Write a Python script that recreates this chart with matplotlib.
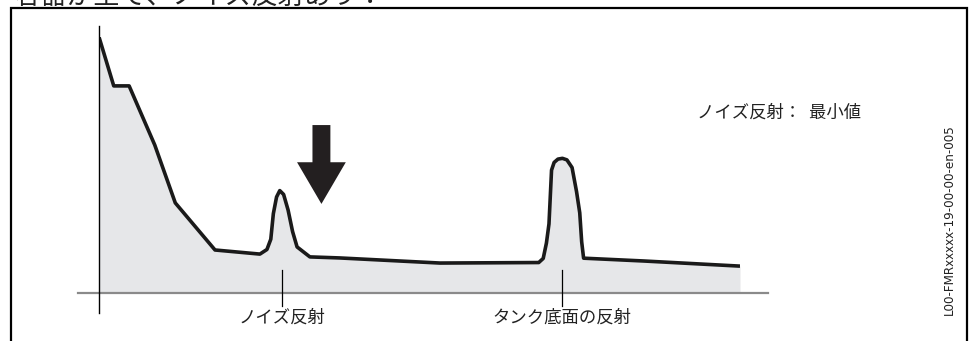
import numpy as np
import matplotlib
matplotlib.use("Agg")
import matplotlib.pyplot as plt

plt.rcParams['font.family'] = ['Noto Sans CJK JP', 'DejaVu Sans']

# echo curve (distance 0-100, amplitude 0-100)
dist = [0, 2.3, 4.7, 8.7, 11.9, 18.1, 25.1, 26.2, 26.8, 27.2, 27.7, 28.2, 28.8,
        29.5, 30.2, 30.9, 32.9, 37.5, 53.2, 68.6, 69.3, 69.8, 70.2, 70.6, 71.0,
        71.6, 72.3, 73.0, 73.8, 74.5, 75.0, 75.3, 75.6, 85.0, 100]
ampl = [100, 80.9, 80.9, 57.8, 35.2, 16.8, 15.2, 17.0, 21.0, 31.0, 37.5, 40.0, 38.5,
        32.4, 24.0, 18.0, 14.1, 13.7, 11.7, 11.9, 13.5, 19.5, 27.0, 48.0, 51.0,
        52.3, 52.6, 52.0, 49.0, 39.6, 31.3, 20.0, 13.6, 12.5, 10.5]

noise_pos = 28.5
bottom_pos = 72.2
arrow_x, arrow_top, arrow_tip = 34.7, 65.6, 34.8

label_noise = "ノイズ反射"
label_bottom = "タンク底面の反射"
note = "ノイズ反射：  最小値"
title = "容器が空で、ノイズ反射あり："
doc_id = "L00-FMRxxxxx-19-00-00-en-005"

W, H = 970, 341
fig = plt.figure(figsize=(W / 100, H / 100), dpi=100)

# pixel overlay for the frame and loose text
bg = fig.add_axes([0, 0, 1, 1])
bg.set_xlim(0, W)
bg.set_ylim(H, 0)
bg.axis('off')
bg.plot([11, 11, 967, 967], [H + 5, 8, 8, H + 5], color='black', lw=1.6,
        solid_joinstyle='miter', clip_on=False)
# heading runs off the top edge, as in the source figure
bg.text(15, -4, title, fontsize=19, ha='left', va='center', color='#222222')
bg.text(949, 220, doc_id, rotation=90, fontsize=9.5, ha='center', va='center',
        family='DejaVu Sans', fontstretch='condensed', color='#222222')
bg.text(697, 113, note, fontsize=12.5, ha='left', va='center', color='#222222')

# chart area: x 99..740 px, y 37..293 px
x0, x1, ytop, ybase = 99, 740, 37, 293
ax = fig.add_axes([x0 / W, (H - ybase) / H, (x1 - x0) / W, (ybase - ytop) / H])
ax.set_xlim(0, 100)
ax.set_ylim(0, 100)
ax.axis('off')

ax.fill_between(dist, ampl, 0, color='#e6e7e9', lw=0)
ax.plot(dist, ampl, color='#1a1a1a', lw=2.6, solid_joinstyle='round',
        solid_capstyle='butt')

# baseline and vertical axis
ax.plot([-21 / 6.41, (768 - x0) / 6.41], [0, 0], color='#8a8a8a', lw=1.6,
        clip_on=False)
ax.plot([0, 0], [(293 - 26) / 2.56, -(313 - 293) / 2.56], color='black', lw=1.0,
        clip_on=False)

# marker ticks
for pos in [noise_pos, bottom_pos]:
    ax.plot([pos, pos], [(293 - 270) / 2.56, -(306 - 293) / 2.56], color='black',
            lw=0.9, clip_on=False)

ax.text(noise_pos, -(318 - 293) / 2.56, label_noise, fontsize=12.5, ha='center',
        va='center', color='#222222')
ax.text(bottom_pos, -(318 - 293) / 2.56, label_bottom, fontsize=12.5, ha='center',
        va='center', color='#222222')

ax.annotate('', xy=(arrow_x, arrow_tip), xytext=(arrow_x, arrow_top),
            arrowprops=dict(arrowstyle='simple,head_length=1.0,head_width=1.17,tail_width=0.43',
                            fc='#231f20', ec='none', mutation_scale=30,
                            shrinkA=0, shrinkB=0))

fig.savefig('out.png', dpi=100)
